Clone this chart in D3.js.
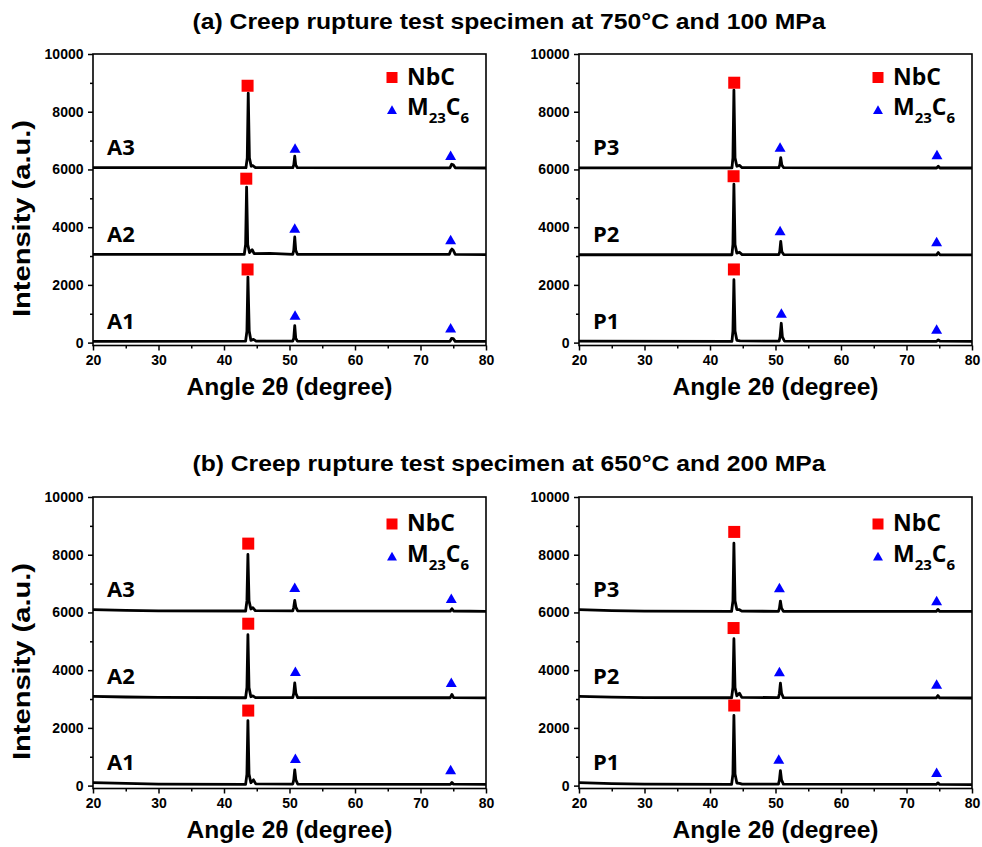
<!DOCTYPE html>
<html>
<head>
<meta charset="utf-8">
<script src="https://cdn.jsdelivr.net/npm/d3@7"></script>
<style>
	body { margin: 0; background: #fff; }
	text { font-family: "Liberation Sans", Arial, sans-serif; font-weight: bold; fill: #000; }
	.sample, .legend text { font-family: "Open Sans", sans-serif; }
</style>
</head>
<body>
<div class="svg-container"></div>
<script>
"use strict";

// titles and ticks
var titles 		= [ "(a) Creep rupture test specimen at 750°C and 100 MPa",
					"(b) Creep rupture test specimen at 650°C and 200 MPa" ];
var xTicks 		= [ 20, 30, 40, 50, 60, 70, 80 ];
var xMinor 		= [ 25, 35, 45, 55, 65, 75 ];
var yTicks 		= [ 0, 2000, 4000, 6000, 8000, 10000 ];
var yMinor 		= [ 1000, 3000, 5000, 7000, 9000 ];
var sampleNames = [ [ "A1", "A2", "A3" ], [ "P1", "P2", "P3" ] ];
var xLabel 		= "Angle 2θ (degree)";
var yLabel 		= "Intensity (a.u.)";

// XRD traces, [2theta, counts]
// (a) 750°C / 100 MPa
var a750A1 = [ [20,45],[43.3,50],[43.5,400],[43.65,2270],[43.85,400],[44.1,80],[44.5,110],[44.9,50],[50.5,50],[50.65,150],[50.8,590],[50.95,150],[51.2,50],[74.5,45],[74.75,150],[75.0,140],[75.3,45],[80,40] ];
var a750A2 = [ [20,3060],[43.1,3060],[43.3,3400],[43.45,5390],[43.62,3400],[43.9,3120],[44.3,3220],[44.6,3080],[47,3090],[50.5,3060],[50.65,3200],[50.8,3660],[50.95,3200],[51.2,3060],[74.4,3060],[74.6,3180],[74.8,3240],[75.0,3200],[75.3,3060],[80,3050] ];
var a750A3 = [ [20,6060],[43.35,6060],[43.55,6400],[43.7,8640],[43.88,6400],[44.15,6110],[44.4,6130],[44.8,6060],[50.5,6060],[50.65,6150],[50.8,6460],[50.95,6150],[51.2,6060],[74.5,6055],[74.75,6180],[75.0,6160],[75.3,6055],[80,6050] ];
var a750P1 = [ [20,50],[43.35,45],[43.5,400],[43.65,2180],[43.82,400],[44.1,80],[44.6,60],[50.55,50],[50.7,200],[50.88,670],[51.05,200],[51.35,55],[74.6,45],[74.85,95],[75.1,50],[80,40] ];
var a750P2 = [ [20,3045],[43.35,3045],[43.5,3400],[43.65,5490],[43.82,3400],[44.1,3100],[44.5,3130],[44.9,3050],[50.5,3050],[50.65,3150],[50.8,3510],[50.97,3150],[51.25,3050],[74.6,3040],[74.85,3120],[75.1,3045],[80,3040] ];
var a750P3 = [ [20,6055],[43.35,6055],[43.5,6400],[43.65,8750],[43.82,6400],[44.1,6110],[44.5,6140],[44.9,6060],[50.5,6060],[50.65,6150],[50.8,6410],[50.97,6150],[51.25,6060],[74.6,6050],[74.85,6110],[75.1,6050],[80,6050] ];
// (b) 650°C / 200 MPa
var b650A1 = [ [20,105],[25,75],[30,55],[43.3,45],[43.5,400],[43.65,2255],[43.82,400],[44.1,100],[44.5,200],[44.85,60],[50.5,55],[50.65,200],[50.8,545],[50.97,200],[51.25,55],[74.55,45],[74.8,110],[75.05,50],[80,40] ];
var b650A2 = [ [20,3090],[25,3070],[30,3055],[43.3,3045],[43.5,3400],[43.65,5230],[43.82,3400],[44.1,3080],[44.4,3110],[44.8,3050],[50.5,3050],[50.65,3200],[50.8,3560],[50.97,3200],[51.25,3050],[74.55,3045],[74.8,3160],[75.05,3050],[80,3040] ];
var b650A3 = [ [20,6095],[25,6070],[30,6055],[43.3,6050],[43.5,6400],[43.65,8010],[43.82,6400],[44.1,6120],[44.4,6165],[44.8,6060],[50.5,6055],[50.65,6180],[50.8,6415],[50.97,6180],[51.25,6055],[74.55,6045],[74.8,6130],[75.05,6050],[80,6040] ];
var b650P1 = [ [20,105],[25,70],[30,50],[43.3,45],[43.5,400],[43.65,2430],[43.82,400],[44.1,90],[44.5,80],[44.9,50],[50.45,50],[50.6,200],[50.75,520],[50.92,200],[51.2,50],[74.55,40],[74.8,95],[75.05,40],[80,35] ];
var b650P2 = [ [20,3090],[25,3065],[30,3050],[43.3,3045],[43.5,3400],[43.65,5090],[43.82,3400],[44.1,3110],[44.5,3200],[44.85,3055],[50.45,3050],[50.6,3200],[50.75,3550],[50.92,3200],[51.2,3050],[74.55,3040],[74.8,3120],[75.05,3040],[80,3035] ];
var b650P3 = [ [20,6095],[25,6065],[30,6045],[43.3,6040],[43.5,6400],[43.65,8400],[43.82,6400],[44.1,6100],[44.5,6095],[44.85,6045],[50.45,6040],[50.6,6150],[50.75,6395],[50.92,6150],[51.2,6040],[74.55,6035],[74.8,6105],[75.05,6035],[80,6035] ];

// phase markers, [2theta, counts]
var nbc750A = [ [43.6,2535],[43.4,5680],[43.6,8900] ];
var m23750A = [ [50.85,900],[74.6,460],[50.8,3920],[74.6,3520],[50.85,6690],[74.6,6435] ];
var nbc750P = [ [43.65,2535],[43.6,5765],[43.7,9005] ];
var m23750P = [ [50.9,970],[74.6,420],[50.7,3830],[74.6,3450],[50.7,6725],[74.65,6460] ];
var nbc650A = [ [43.7,2600],[43.7,5610],[43.7,8385] ];
var m23650A = [ [50.9,890],[74.6,500],[50.9,3910],[74.7,3530],[50.8,6820],[74.7,6440] ];
var nbc650P = [ [43.7,2775],[43.6,5460],[43.7,8790] ];
var m23650P = [ [50.5,870],[74.6,405],[50.6,3900],[74.6,3470],[50.6,6810],[74.6,6360] ];

var traces  = [ [ [a750A1, a750A2, a750A3], [a750P1, a750P2, a750P3] ],
				[ [b650A1, b650A2, b650A3], [b650P1, b650P2, b650P3] ] ];
var nbcMarks = [ [nbc750A, nbc750P], [nbc650A, nbc650P] ];
var m23Marks = [ [m23750A, m23750P], [m23650A, m23650P] ];

// layout
var width 		= 982,
	height 		= 847,
	plotW 		= 393,
	plotH 		= 291.5,
	panelLeft 	= [ 93, 579 ],
	panelTop 	= [ 54, 497 ],
	titleY 		= [ 29, 471 ],
	legendDy 	= [ 0, 3.5 ];

var red = "#ff0000", blue = "#0000ff";

var svg = d3.select(".svg-container").append("svg")
	.attr("width", width)
	.attr("height", height);

svg.append("rect").attr("width", width).attr("height", height).attr("fill", "#fff");

var x = d3.scaleLinear().domain([20, 80]).range([0, plotW]);
var y = d3.scaleLinear().domain([-100, 10000]).range([plotH, 0]);

var line = d3.line()
	.x(function (d) { return x(d[0]); })
	.y(function (d) { return y(d[1]); });

var triangle = d3.symbol().type(d3.symbolTriangle);

titles.forEach(function (t, r) {
	svg.append("text")
		.attr("x", 509)
		.attr("y", titleY[r])
		.attr("text-anchor", "middle")
		.attr("font-size", 22)
		.attr("textLength", 633)
		.attr("lengthAdjust", "spacingAndGlyphs")
		.text(t);

	// y label, one per row
	svg.append("text")
		.attr("transform", "translate(29.5," + (panelTop[r] + 164.5) + ") rotate(-90)")
		.attr("text-anchor", "middle")
		.attr("font-size", 24)
		.attr("textLength", 197)
		.attr("lengthAdjust", "spacingAndGlyphs")
		.text(yLabel);

	for (var c = 0; c < 2; c++) {
		drawPanel(r, c);
	}
});

function styleTicks ( sel ) {
	sel.attr("font-family", "'Liberation Sans', Arial, sans-serif")
		.attr("font-size", 14)
		.attr("font-weight", "bold");
}

function drawPanel ( r, c ) {

	var g = svg.append("g")
		.attr("transform", "translate(" + panelLeft[c] + "," + panelTop[r] + ")");

	// ticks
	g.append("g")
		.attr("transform", "translate(0," + plotH + ")")
		.call(d3.axisBottom(x).tickValues(xTicks).tickFormat(d3.format("d")).tickSize(5).tickSizeOuter(0).tickPadding(4.5))
		.call(styleTicks);
	g.append("g")
		.attr("transform", "translate(0," + plotH + ")")
		.call(d3.axisBottom(x).tickValues(xMinor).tickSize(3).tickSizeOuter(0).tickFormat(""));
	g.append("g")
		.call(d3.axisLeft(y).tickValues(yTicks).tickFormat(d3.format("d")).tickSize(5).tickSizeOuter(0).tickPadding(4.5))
		.call(styleTicks);
	g.append("g")
		.call(d3.axisLeft(y).tickValues(yMinor).tickSize(3).tickSizeOuter(0).tickFormat(""));

	g.selectAll(".domain").remove();
	g.selectAll(".tick line").attr("stroke", "#000").attr("stroke-width", 1.5);
	g.selectAll(".tick text").attr("fill", "#000");

	// traces
	g.selectAll(".trace")
		.data(traces[r][c])
		.enter()
		.append("path")
		.attr("class", "trace")
		.attr("d", line)
		.attr("fill", "none")
		.attr("stroke", "#000")
		.attr("stroke-width", 2.8)
		.attr("stroke-linejoin", "round");

	// sample names
	g.selectAll(".sample")
		.data(traces[r][c])
		.enter()
		.append("text")
		.attr("class", "sample")
		.attr("x", 14)
		.attr("y", function (d) { return y(d[0][1]) - 12.5; })
		.attr("font-size", 22)
		.text(function (d, i) { return sampleNames[c][i]; });

	// markers
	g.selectAll(".nbc")
		.data(nbcMarks[r][c])
		.enter()
		.append("rect")
		.attr("class", "nbc")
		.attr("x", function (d) { return x(d[0]) - 6; })
		.attr("y", function (d) { return y(d[1]) - 6; })
		.attr("width", 12)
		.attr("height", 12)
		.attr("fill", red);

	g.selectAll(".m23")
		.data(m23Marks[r][c])
		.enter()
		.append("path")
		.attr("class", "m23")
		.attr("transform", function (d) { return "translate(" + x(d[0]) + "," + y(d[1]) + ")"; })
		.attr("d", triangle.size(52))
		.attr("fill", blue);

	// frame
	g.append("rect")
		.attr("width", plotW)
		.attr("height", plotH)
		.attr("fill", "none")
		.attr("stroke", "#000")
		.attr("stroke-width", 1.6);

	// legend
	var lg = g.append("g")
		.attr("class", "legend")
		.attr("transform", "translate(299," + legendDy[r] + ")");

	lg.append("rect").attr("x", -5.5).attr("y", 18).attr("width", 11).attr("height", 11).attr("fill", red);
	lg.append("text").attr("x", 15).attr("y", 30.5).attr("font-size", 23).text("NbC");
	lg.append("path").attr("transform", "translate(0,57)").attr("d", d3.symbol().type(d3.symbolTriangle).size(43)()).attr("fill", blue);

	var m = lg.append("text").attr("x", 15).attr("y", 61).attr("font-size", 23);
	m.append("tspan").text("M");
	m.append("tspan").attr("dy", 8).attr("font-size", 15).text("23");
	m.append("tspan").attr("dy", -8).text("C");
	m.append("tspan").attr("dy", 8).attr("font-size", 15).text("6");

	// x label
	g.append("text")
		.attr("x", plotW / 2)
		.attr("y", plotH + 49.5)
		.attr("text-anchor", "middle")
		.attr("font-size", 24)
		.attr("textLength", 206)
		.attr("lengthAdjust", "spacingAndGlyphs")
		.text(xLabel);
}
</script>
</body>
</html>
